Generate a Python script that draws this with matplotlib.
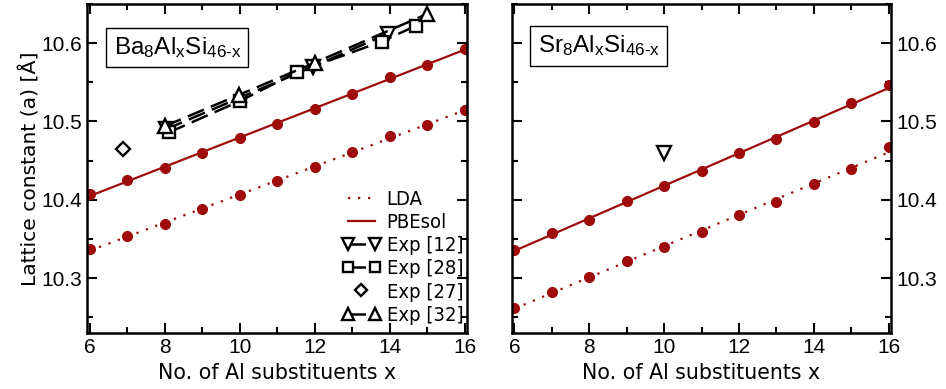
import numpy as np
import matplotlib
matplotlib.use("Agg")
import matplotlib.pyplot as plt
from matplotlib.legend_handler import HandlerLine2D
from matplotlib.font_manager import FontProperties

# ---------------- data ----------------
x_al = [6, 7, 8, 9, 10, 11, 12, 13, 14, 15, 16]

ba_lda    = [10.337, 10.354, 10.369, 10.388, 10.406, 10.424, 10.442, 10.461, 10.481, 10.495, 10.515]
ba_pbesol = [10.407, 10.425, 10.440, 10.460, 10.479, 10.497, 10.516, 10.535, 10.557, 10.572, 10.593]

sr_lda    = [10.262, 10.282, 10.302, 10.322, 10.340, 10.359, 10.380, 10.397, 10.420, 10.439, 10.467]
sr_pbesol = [10.336, 10.358, 10.374, 10.398, 10.418, 10.437, 10.460, 10.478, 10.499, 10.523, 10.546]

ba_exp12_x = [8.03, 11.95, 13.95]
ba_exp12_y = [10.490, 10.570, 10.612]
ba_exp28_x = [8.11, 10.0, 11.53, 13.78, 14.69]
ba_exp28_y = [10.486, 10.526, 10.563, 10.602, 10.622]
ba_exp27_x = [6.89]
ba_exp27_y = [10.465]
ba_exp32_x = [8.0, 9.98, 12.0, 14.98]
ba_exp32_y = [10.494, 10.534, 10.575, 10.637]

sr_exp12_x = [10.0]
sr_exp12_y = [10.460]

ytick_vals = [10.3, 10.4, 10.5, 10.6]
xtick_vals = [6, 8, 10, 12, 14, 16]

# ---------------- style ----------------
RED = "#9e0b0b"
plt.rcParams["mathtext.fontset"] = "custom"
plt.rcParams["mathtext.rm"] = "Liberation Sans"
plt.rcParams["mathtext.it"] = "Liberation Sans"

fig = plt.figure(figsize=(9.46, 3.89), dpi=100)
ax1 = fig.add_axes([0.092, 0.144, 0.4017, 0.8457])
ax2 = fig.add_axes([0.541, 0.144, 0.4009, 0.8457])

def fit_line(ax, xs, ys, ls):
    p = np.polyfit(xs, ys, 1)
    xx = np.array([xs[0], xs[-1]])
    ax.plot(xx, np.polyval(p, xx), color=RED, lw=1.6, ls=ls)
    ax.plot(xs, ys, "o", color=RED, ms=7, mec=RED)

dot = (0, (1, 3.5))
dash = (0, (7, 3))

# left panel
fit_line(ax1, x_al, ba_lda, dot)
fit_line(ax1, x_al, ba_pbesol, "-")
h_lda, = ax1.plot([], [], color=RED, lw=1.6, ls=dot, label="LDA")
h_pbe, = ax1.plot([], [], color=RED, lw=1.6, ls="-", label="PBEsol")
mk = dict(mfc="white", mec="black", mew=1.7, color="black", lw=1.8, ls=dash)
h12, = ax1.plot(ba_exp12_x, ba_exp12_y, marker="v", ms=10, label="Exp [12]", **mk)
h28, = ax1.plot(ba_exp28_x, ba_exp28_y, marker="s", ms=9, label="Exp [28]", **mk)
h27, = ax1.plot(ba_exp27_x, ba_exp27_y, marker="D", ms=7.5, ls="none",
                mfc="white", mec="black", mew=1.7, label="Exp [27]")
h32, = ax1.plot(ba_exp32_x, ba_exp32_y, marker="^", ms=10, label="Exp [32]", **mk)

legprop = FontProperties(family="DejaVu Sans", stretch="condensed", size=14.5)
leg = ax1.legend(handles=[h_lda, h_pbe, h12, h28, h27, h32],
                 loc="lower right", bbox_to_anchor=(0.99, 0.025), frameon=False,
                 prop=legprop, numpoints=2, handlelength=1.9, handletextpad=0.3,
                 labelspacing=0.21, borderaxespad=0.0, borderpad=0.0,
                 markerscale=0.85,
                 handler_map={h27: HandlerLine2D(numpoints=1)})

# right panel
fit_line(ax2, x_al, sr_lda, dot)
fit_line(ax2, x_al, sr_pbesol, "-")
ax2.plot(sr_exp12_x, sr_exp12_y, marker="v", ms=10, ls="none",
         mfc="white", mec="black", mew=1.7)

for ax in (ax1, ax2):
    ax.set_xlim(5.93, 16.06)
    ax.set_ylim(10.23, 10.65)
    ax.set_xticks(xtick_vals)
    ax.set_xticks(np.arange(6, 17, 1), minor=True)
    ax.set_yticks(ytick_vals)
    ax.set_yticks(np.arange(10.25, 10.651, 0.05), minor=True)
    ax.tick_params(which="both", direction="in", top=True, bottom=True,
                   left=True, right=True, width=1.5)
    ax.tick_params(which="major", length=7)
    ax.tick_params(which="minor", length=4)
    for s in ax.spines.values():
        s.set_linewidth(1.8)
    ax.set_xticklabels([str(v) for v in xtick_vals])
    ax.set_xlabel("No. of Al substituents x", fontsize=14.8, labelpad=4.5)

ax1.set_yticklabels([f"{v:.1f}" for v in ytick_vals])
ax2.yaxis.tick_right()
ax2.tick_params(which="both", left=True, right=True)
ax2.set_yticklabels([f"{v:.1f}" for v in ytick_vals])
for ax in (ax1, ax2):
    for lab in ax.get_xticklabels() + ax.get_yticklabels():
        lab.set_fontfamily("Liberation Sans")
        lab.set_fontsize(15)

ax1.set_ylabel("Lattice constant (a) [Å]", fontsize=14.6, labelpad=1)

box = dict(boxstyle="square,pad=0.3", fc="white", ec="black", lw=1.0)
ax1.text(0.07, 0.868, r"Ba$_\mathrm{8}$Al$_\mathrm{x}$Si$_\mathrm{46\text{-}x}$",
         transform=ax1.transAxes, fontsize=17.5, family="Liberation Sans",
         va="center", ha="left", bbox=box)
ax2.text(0.068, 0.873, r"Sr$_\mathrm{8}$Al$_\mathrm{x}$Si$_\mathrm{46\text{-}x}$",
         transform=ax2.transAxes, fontsize=17.5, family="Liberation Sans",
         va="center", ha="left", bbox=box)

fig.savefig("out.png", dpi=100)
